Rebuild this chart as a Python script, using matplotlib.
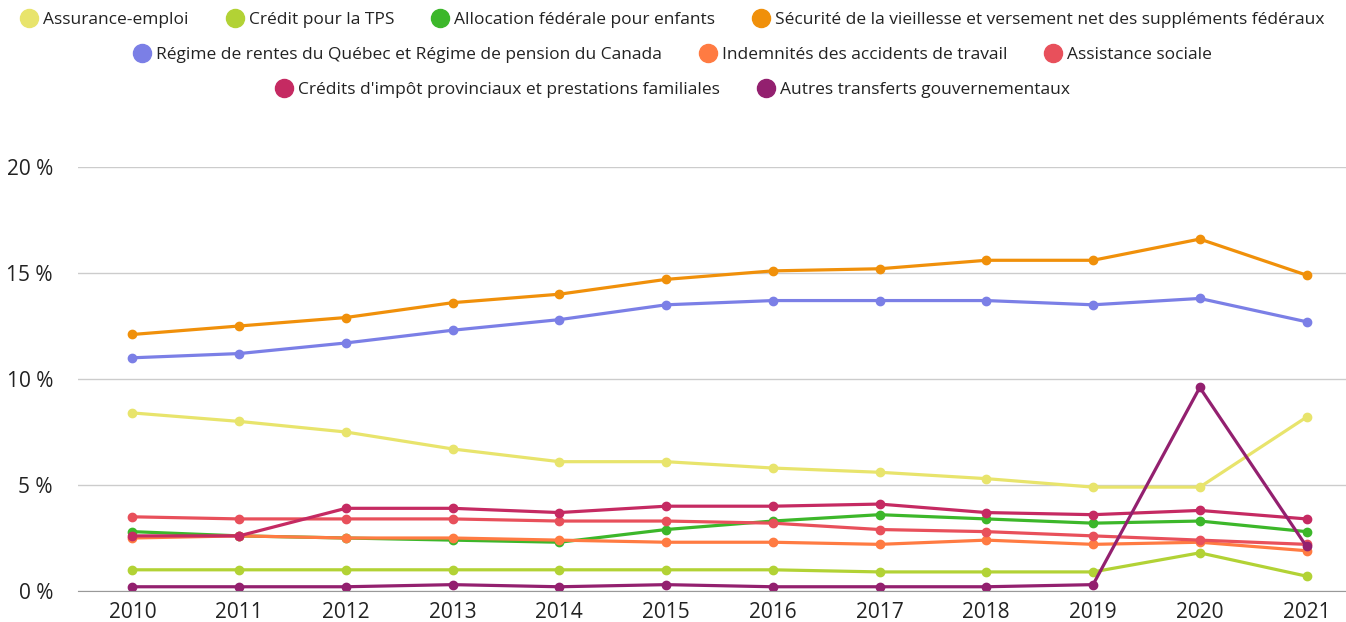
import matplotlib.pyplot as plt
from matplotlib.lines import Line2D

years = list(range(2010, 2022))

assurance_emploi = [8.4, 8.0, 7.5, 6.7, 6.1, 6.1, 5.8, 5.6, 5.3, 4.9, 4.9, 8.2]
credit_tps = [1.0, 1.0, 1.0, 1.0, 1.0, 1.0, 1.0, 0.9, 0.9, 0.9, 1.8, 0.7]
allocation_enfants = [2.8, 2.6, 2.5, 2.4, 2.3, 2.9, 3.3, 3.6, 3.4, 3.2, 3.3, 2.8]
securite_vieillesse = [12.1, 12.5, 12.9, 13.6, 14.0, 14.7, 15.1, 15.2, 15.6, 15.6, 16.6, 14.9]
rrq_rpc = [11.0, 11.2, 11.7, 12.3, 12.8, 13.5, 13.7, 13.7, 13.7, 13.5, 13.8, 12.7]
indemnites = [2.5, 2.6, 2.5, 2.5, 2.4, 2.3, 2.3, 2.2, 2.4, 2.2, 2.3, 1.9]
assistance_sociale = [3.5, 3.4, 3.4, 3.4, 3.3, 3.3, 3.2, 2.9, 2.8, 2.6, 2.4, 2.2]
credits_provinciaux = [2.6, 2.6, 3.9, 3.9, 3.7, 4.0, 4.0, 4.1, 3.7, 3.6, 3.8, 3.4]
autres_transferts = [0.2, 0.2, 0.2, 0.3, 0.2, 0.3, 0.2, 0.2, 0.2, 0.3, 9.6, 2.1]

labels = [
    "Assurance-emploi",
    "Crédit pour la TPS",
    "Allocation fédérale pour enfants",
    "Sécurité de la vieillesse et versement net des suppléments fédéraux",
    "Régime de rentes du Québec et Régime de pension du Canada",
    "Indemnités des accidents de travail",
    "Assistance sociale",
    "Crédits d'impôt provinciaux et prestations familiales",
    "Autres transferts gouvernementaux",
]
series = [assurance_emploi, credit_tps, allocation_enfants, securite_vieillesse,
          rrq_rpc, indemnites, assistance_sociale, credits_provinciaux, autres_transferts]
colors = ["#e8e46c", "#b2d235", "#3cb72a", "#f0900a", "#7b7fe6",
          "#ff7b42", "#e8505b", "#c52a62", "#93206f"]

plt.rcParams['font.family'] = ['Open Sans', 'DejaVu Sans']

fig = plt.figure(figsize=(13.46, 6.22), dpi=100)
ax = fig.add_axes([78 / 1346, 1 - 591 / 622, 1268 / 1346, 424 / 622])

for vals, col in zip(series, colors):
    ax.plot(years, vals, color=col, lw=2.3, marker='o', markersize=6, solid_capstyle='round')

ax.set_xlim(2009.49, 2021.37)
ax.set_ylim(0, 20)
ax.set_xticks(years)
ax.set_yticks([0, 5, 10, 15, 20])
ax.set_yticklabels(["0 %", "5 %", "10 %", "15 %", "20 %"])
ax.grid(axis='y', color='#cccccc', lw=1)
ax.set_axisbelow(True)
for s in ['top', 'right', 'left']:
    ax.spines[s].set_visible(False)
ax.spines['bottom'].set_color('#999999')
ax.tick_params(axis='both', length=0, labelsize=15, colors='#222222')
ax.tick_params(axis='y', pad=18)
ax.tick_params(axis='x', pad=8)

handles = [Line2D([], [], color=c, marker='o', linestyle='none', markersize=13) for c in colors]
rows = [(0, 4, 20), (4, 7, 55), (7, 9, 90)]
for a, b, ypix in rows:
    leg = fig.legend(handles[a:b], labels[a:b], loc='center', bbox_to_anchor=(0.5, 1 - ypix / 622),
                     ncol=b - a, frameon=False, fontsize=12.5, handlelength=0.9,
                     handletextpad=0.35, columnspacing=2.2, borderpad=0)
    for t in leg.get_texts():
        t.set_color('#222222')

fig.savefig('out.png', dpi=100)
